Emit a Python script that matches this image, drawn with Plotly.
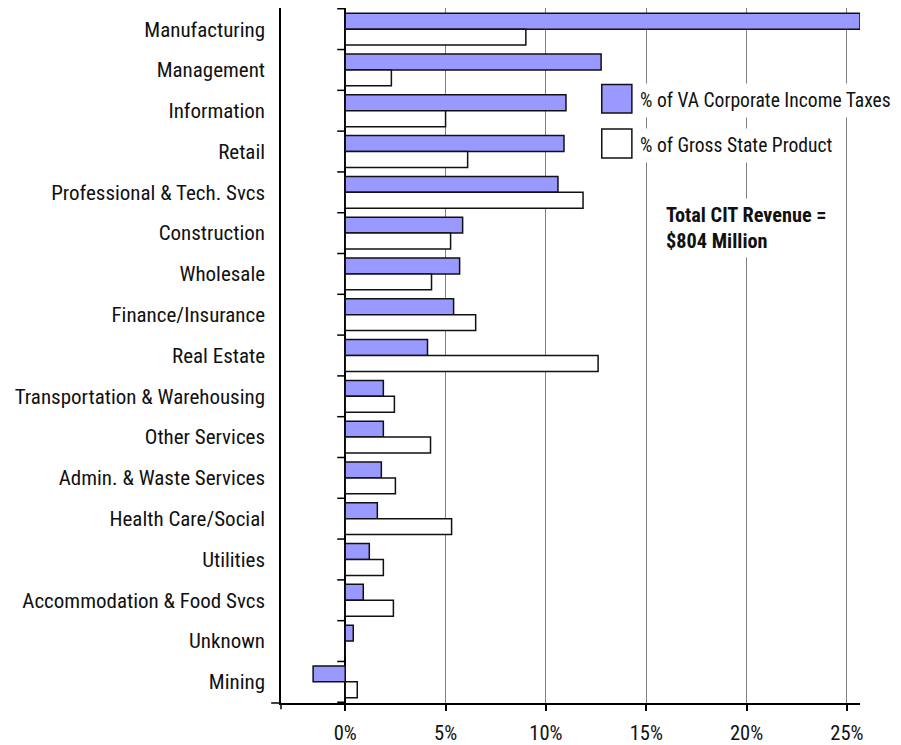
import plotly.graph_objects as go

# Industry shares, Virginia corporate income tax vs. gross state product (%)
industries = [
    "Manufacturing", "Management", "Information", "Retail",
    "Professional & Tech. Svcs", "Construction", "Wholesale",
    "Finance/Insurance", "Real Estate", "Transportation & Warehousing",
    "Other Services", "Admin. & Waste Services", "Health Care/Social",
    "Utilities", "Accommodation & Food Svcs", "Unknown", "Mining",
]
cit_share = [25.65, 12.75, 11.0, 10.9, 10.6, 5.85, 5.7, 5.4, 4.1,
             1.9, 1.9, 1.8, 1.6, 1.2, 0.9, 0.4, -1.6]
gsp_share = [9.0, 2.3, 5.0, 6.1, 11.85, 5.25, 4.3, 6.5, 12.6,
             2.45, 4.25, 2.5, 5.3, 1.9, 2.4, 0.0, 0.6]
x_ticks = [0, 5, 10, 15, 20, 25]

FONT = "Liberation Sans Narrow, Arial Narrow, Roboto Condensed, sans-serif"
X_MIN, X_MAX = -3.2, 25.65

fig = go.Figure()
fig.add_trace(go.Bar(
    y=industries, x=cit_share, orientation="h",
    name="% of VA Corporate Income Taxes",
    marker=dict(color="#9999FF", line=dict(color="#111111", width=1.5)),
    cliponaxis=False, showlegend=False,
))
fig.add_trace(go.Bar(
    y=industries, x=gsp_share, orientation="h",
    name="% of Gross State Product",
    marker=dict(color="#FFFFFF", line=dict(color="#111111", width=1.5)),
    cliponaxis=False, showlegend=False,
))

shapes = []
# small category ticks along the zero line
for i in range(len(industries) + 1):
    shapes.append(dict(type="line", xref="x", yref="y",
                       x0=-0.4, x1=0, y0=i - 0.5, y1=i - 0.5,
                       line=dict(color="#000000", width=1.5)))
# bottom axis extension and end tick at the left edge
shapes.append(dict(type="line", xref="paper", yref="paper",
                   x0=-0.017, x1=0, y0=0, y1=0,
                   line=dict(color="#000000", width=1.5)))
shapes.append(dict(type="line", xref="paper", yref="paper",
                   x0=0, x1=0, y0=0, y1=-0.009,
                   line=dict(color="#000000", width=1.5)))

# legend swatches and labels
legend_items = [("#9999FF", "% of VA Corporate Income Taxes", 0.890, 0.849),
                ("#FFFFFF", "% of Gross State Product", 0.826, 0.784)]
annotations = []
for color, label, top, bottom in legend_items:
    shapes.append(dict(type="rect", xref="paper", yref="paper",
                       x0=0.554, x1=0.606, y0=bottom, y1=top,
                       fillcolor=color, layer="above",
                       line=dict(color="#111111", width=1.5)))
    annotations.append(dict(xref="paper", yref="paper", x=0.610,
                            y=(top + bottom) / 2 - 0.003, xanchor="left",
                            yanchor="middle", text=label, showarrow=False,
                            bgcolor="#FFFFFF", borderpad=5,
                            font=dict(family=FONT, size=19.6, color="#111111")))

annotations.append(dict(xref="paper", yref="paper", x=0.6555, y=0.684,
                        xanchor="left", yanchor="middle", align="left",
                        text="<b>Total CIT Revenue =</b><br><b>$804 Million</b>",
                        showarrow=False, bgcolor="#FFFFFF", borderpad=4,
                        font=dict(family=FONT, size=20.3, color="#111111")))

fig.update_layout(
    width=901, height=745,
    margin=dict(l=281, r=41, t=8, b=42, autoexpand=False),
    paper_bgcolor="#FFFFFF", plot_bgcolor="#FFFFFF",
    barmode="group", bargap=0.22, bargroupgap=0.0,
    font=dict(family=FONT, size=21, color="#111111"),
    shapes=shapes, annotations=annotations,
    xaxis=dict(
        range=[X_MIN, X_MAX], tickvals=x_ticks,
        ticktext=[f"{v}%" for v in x_ticks],
        automargin=False,
        showgrid=True, gridcolor="#808080", gridwidth=1,
        zeroline=True, zerolinecolor="#000000", zerolinewidth=1.5,
        showline=True, linecolor="#000000", linewidth=1.5,
        ticks="outside", ticklen=6, tickcolor="#000000", tickwidth=1.5,
        ticklabelstandoff=5,
        tickfont=dict(family=FONT, size=20.5, color="#111111"),
    ),
    yaxis=dict(
        categoryorder="array", categoryarray=industries,
        autorange="reversed", automargin=False,
        showgrid=False, zeroline=False,
        showline=True, linecolor="#000000", linewidth=1.5,
        ticks="", ticklabelstandoff=10,
        tickfont=dict(family=FONT, size=21, color="#111111"),
    ),
)

fig.write_html("out.html")
